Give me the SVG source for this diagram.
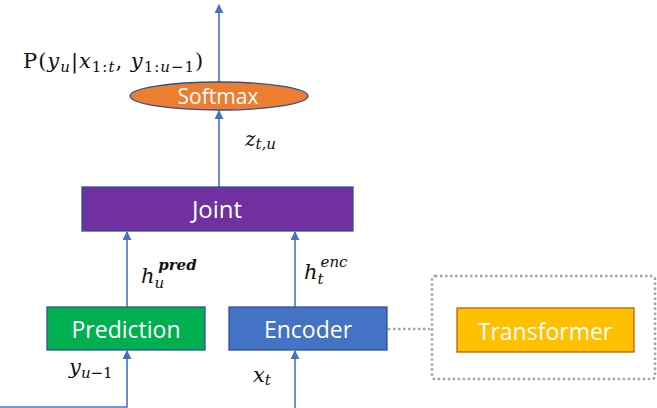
<svg xmlns="http://www.w3.org/2000/svg" width="657" height="408" viewBox="0 0 657 408">
<defs>
<marker id="ah" viewBox="0 0 10 10" refX="9" refY="5" markerWidth="9" markerHeight="9" markerUnits="userSpaceOnUse" orient="auto">
<path d="M0,0 L10,5 L0,10 z" fill="#4472C4"/>
</marker>
</defs>
<style>
.lbl{font-family:"Open Sans","Noto Sans",sans-serif;fill:#fff;text-anchor:middle}
.m{font-family:"DejaVu Serif","Liberation Serif",serif;font-style:italic;fill:#111}
.mr{font-style:normal}
.c{stroke:#4472C4;stroke-width:1.6;fill:none}
.box{stroke:#2F528F;stroke-width:1.3}
</style>
<rect width="657" height="408" fill="#fff"/>
<g id="connectors">
<line class="c" x1="219" y1="82" x2="219" y2="5" marker-end="url(#ah)"/>
<line class="c" x1="219" y1="187" x2="219" y2="111" marker-end="url(#ah)"/>
<line class="c" x1="127" y1="307" x2="127" y2="232" marker-end="url(#ah)"/>
<line class="c" x1="295" y1="307" x2="295" y2="232" marker-end="url(#ah)"/>
<polyline class="c" points="0,407 127,407 127,351" marker-end="url(#ah)"/>
<line class="c" x1="295" y1="408" x2="295" y2="351" marker-end="url(#ah)"/>
<line x1="388" y1="329" x2="430" y2="329" stroke="#A6A6A6" stroke-width="2.5" stroke-dasharray="2.5 2.5"/>
</g>
<g id="softmax">
<ellipse cx="219" cy="96" rx="89" ry="14" fill="#ED7D31" class="box"/>
<text class="lbl" x="218" y="104" font-size="21">Softmax</text>
</g>
<g id="joint">
<rect x="82" y="187" width="271" height="44" fill="#7030A0" class="box"/>
<text class="lbl" x="217" y="218" font-size="24">Joint</text>
</g>
<g id="prediction">
<rect x="47" y="307" width="158" height="43" fill="#00B050" class="box"/>
<text class="lbl" x="126" y="338" font-size="23">Prediction</text>
</g>
<g id="encoder">
<rect x="229" y="307" width="158" height="43" fill="#4472C4" class="box"/>
<text class="lbl" x="308" y="338" font-size="23">Encoder</text>
</g>
<g id="transformer-group">
<rect x="432" y="276" width="223" height="103" rx="3" fill="none" stroke="#A6A6A6" stroke-width="2.5" stroke-dasharray="2.5 2.5"/>
</g>
<g id="transformer">
<rect x="457" y="308" width="177" height="44" fill="#FFC000" stroke="#C55A11" stroke-width="1.3"/>
<text class="lbl" x="545" y="340" font-size="23">Transformer</text>
</g>
<g id="labels">
<text class="m" x="23" y="68" font-size="21" letter-spacing="1"><tspan class="mr">P(</tspan>y<tspan font-size="15" dy="4">u</tspan><tspan class="mr" dy="-4">|</tspan>x<tspan font-size="15" dy="4"><tspan class="mr">1:</tspan>t</tspan><tspan class="mr" dy="-4">, </tspan>y<tspan font-size="15" dy="4"><tspan class="mr">1:</tspan>u<tspan class="mr">−1</tspan></tspan><tspan class="mr" dy="-4">)</tspan></text>
<text class="m" x="245" y="146" font-size="20">z<tspan font-size="15" dy="3">t,u</tspan></text>
<text class="m" x="141" y="283" font-size="21">h<tspan font-size="15" dy="5">u</tspan><tspan font-size="15" font-weight="bold" dx="-6" dy="-18">pred</tspan></text>
<text class="m" x="304" y="279" font-size="21">h<tspan font-size="15" dy="5">t</tspan><tspan font-size="15" dx="-3" dy="-17">enc</tspan></text>
<text class="m" x="69" y="374" font-size="21">y<tspan font-size="15" dy="4">u<tspan class="mr">−1</tspan></tspan></text>
<text class="m" x="253" y="382" font-size="21">x<tspan font-size="15" dy="3">t</tspan></text>
</g>
</svg>
